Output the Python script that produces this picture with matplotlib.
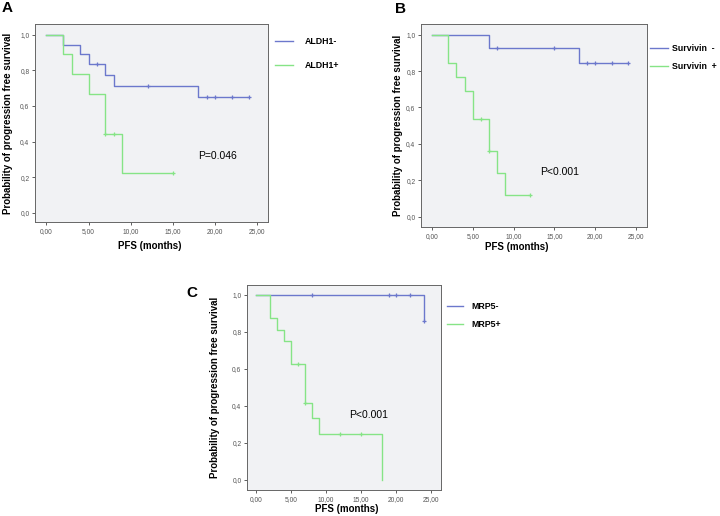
import numpy as np
import matplotlib
matplotlib.use("Agg")
import matplotlib.pyplot as plt

plt.rcParams['font.family'] = ['Liberation Sans', 'DejaVu Sans']

# ---------------------------
# Kaplan-Meier data
# ---------------------------
# Panel A - ALDH1
aldh_neg_t = [0, 2, 4, 5, 7, 8, 18, 24]
aldh_neg_s = [1.0, 0.944, 0.889, 0.833, 0.774, 0.714, 0.65, 0.65]
aldh_neg_cens = [6, 12, 19, 20, 22, 24]
aldh_pos_t = [0, 2, 3, 5, 7, 9, 15]
aldh_pos_s = [1.0, 0.889, 0.778, 0.667, 0.444, 0.222, 0.222]
aldh_pos_cens = [7, 8, 15]

# Panel B - Survivin
surv_neg_t = [0, 7, 18, 24]
surv_neg_s = [1.0, 0.929, 0.846, 0.846]
surv_neg_cens = [8, 15, 19, 20, 22, 24]
surv_pos_t = [0, 2, 3, 4, 5, 7, 8, 9, 12]
surv_pos_s = [1.0, 0.846, 0.769, 0.692, 0.538, 0.359, 0.239, 0.12, 0.12]
surv_pos_cens = [6, 7, 12]

# Panel C - MRP5
mrp_neg_t = [0, 24]
mrp_neg_s = [1.0, 0.857]
mrp_neg_cens = [8, 19, 20, 22, 24]
mrp_pos_t = [0, 2, 3, 4, 5, 7, 8, 9, 18]
mrp_pos_s = [1.0, 0.875, 0.8125, 0.75, 0.625, 0.417, 0.333, 0.25, 0.0]
mrp_pos_cens = [6, 7, 12, 15]

xticks = [0, 5, 10, 15, 20, 25]
xtick_labels = ["0,00", "5,00", "10,00", "15,00", "20,00", "25,00"]
yticks = [0, 0.2, 0.4, 0.6, 0.8, 1.0]
ytick_labels = ["0,0", "0,2", "0,4", "0,6", "0,8", "1,0"]

BLUE = "#6c78cc"
GREEN = "#86e486"
BG = "#f1f2f4"

W, H = 720, 516
fig = plt.figure(figsize=(7.2, 5.16), dpi=100)


def px_axes(x0, y0, x1, y1):
    return fig.add_axes([x0 / W, 1 - y1 / H, (x1 - x0) / W, (y1 - y0) / H])


def surv_at(t, times, surv):
    i = np.searchsorted(times, t, side='right') - 1
    return surv[i]


def km(ax, t, s, cens, color, label):
    line, = ax.step(t, s, where='post', color=color, lw=1.0, label=label)
    cy = [surv_at(c, t, s) for c in cens]
    ax.plot(cens, cy, '+', color=color, ms=3, mew=0.9)
    return line


def style(ax, xlim, ylim):
    ax.set_facecolor(BG)
    ax.set_xlim(*xlim)
    ax.set_ylim(*ylim)
    ax.set_xticks(xticks)
    ax.set_xticklabels(xtick_labels)
    ax.set_yticks(yticks)
    ax.set_yticklabels(ytick_labels)
    ax.tick_params(labelsize=4.8, labelcolor="#555555", length=2, width=0.6,
                   color="#444444", pad=2)
    for sp in ax.spines.values():
        sp.set_color("#666666")
        sp.set_linewidth(0.7)


def legend_at(ax, x, y, spacing, hlen, pad):
    # place legend with its upper-left corner at pixel (x, y)
    ax.legend(loc='upper left', bbox_to_anchor=(x / W, 1 - y / H),
              bbox_transform=fig.transFigure, frameon=False,
              prop={'size': 6.3, 'weight': 'bold'}, handlelength=hlen,
              labelspacing=spacing, handletextpad=pad, borderpad=0,
              borderaxespad=0)


# ===========================
# Panel A
# ===========================
axA = px_axes(35, 24, 268, 222)
km(axA, aldh_neg_t, aldh_neg_s, aldh_neg_cens, BLUE, "ALDH1-")
km(axA, aldh_pos_t, aldh_pos_s, aldh_pos_cens, GREEN, "ALDH1+")
style(axA, (-1.35, 26.26), (-0.052, 1.06))
axA.text(20.3, 0.32, "P=0.046", fontsize=7.5, ha='center', va='center')
legend_at(axA, 275, 37, 1.75, 2.0, 1.4)

# ===========================
# Panel B
# ===========================
axB = px_axes(421, 24, 647, 227)
km(axB, surv_neg_t, surv_neg_s, surv_neg_cens, BLUE, "Survivin  -")
km(axB, surv_pos_t, surv_pos_s, surv_pos_cens, GREEN, "Survivin  +")
style(axB, (-1.35, 26.35), (-0.057, 1.059))
axB.text(15.7, 0.247, "P<0.001", fontsize=7.5, ha='center', va='center')
legend_at(axB, 650, 44, 1.05, 2.0, 0.5)

# ===========================
# Panel C
# ===========================
axC = px_axes(247, 285, 441, 490)
km(axC, mrp_neg_t, mrp_neg_s, mrp_neg_cens, BLUE, "MRP5-")
km(axC, mrp_pos_t, mrp_pos_s, mrp_pos_cens, GREEN, "MRP5+")
style(axC, (-1.29, 26.5), (-0.054, 1.054))
axC.text(16.1, 0.35, "P<0.001", fontsize=7.5, ha='center', va='center')
legend_at(axC, 447, 302, 1.0, 1.8, 1.0)

# ---------------------------
# Axis titles and panel letters
# ---------------------------
ylab = "Probability of progression free survival"
fig.text(8 / W, 1 - 123 / H, ylab, rotation=90, fontsize=7, weight='bold',
         ha='center', va='center')
fig.text(398 / W, 1 - 125 / H, ylab, rotation=90, fontsize=7, weight='bold',
         ha='center', va='center')
fig.text(215 / W, 1 - 387 / H, ylab, rotation=90, fontsize=7, weight='bold',
         ha='center', va='center')

fig.text(150 / W, 1 - 246 / H, "PFS (months)", fontsize=7, weight='bold',
         ha='center', va='center')
fig.text(517 / W, 1 - 247 / H, "PFS (months)", fontsize=7, weight='bold',
         ha='center', va='center')
fig.text(347 / W, 1 - 509 / H, "PFS (months)", fontsize=7, weight='bold',
         ha='center', va='center')

fig.text(7 / W, 1 - 8 / H, "A", fontsize=11, weight='bold', ha='center', va='center')
fig.text(400 / W, 1 - 9 / H, "B", fontsize=11, weight='bold', ha='center', va='center')
fig.text(192 / W, 1 - 293 / H, "C", fontsize=11, weight='bold', ha='center', va='center')

fig.savefig("out.png", dpi=100)
